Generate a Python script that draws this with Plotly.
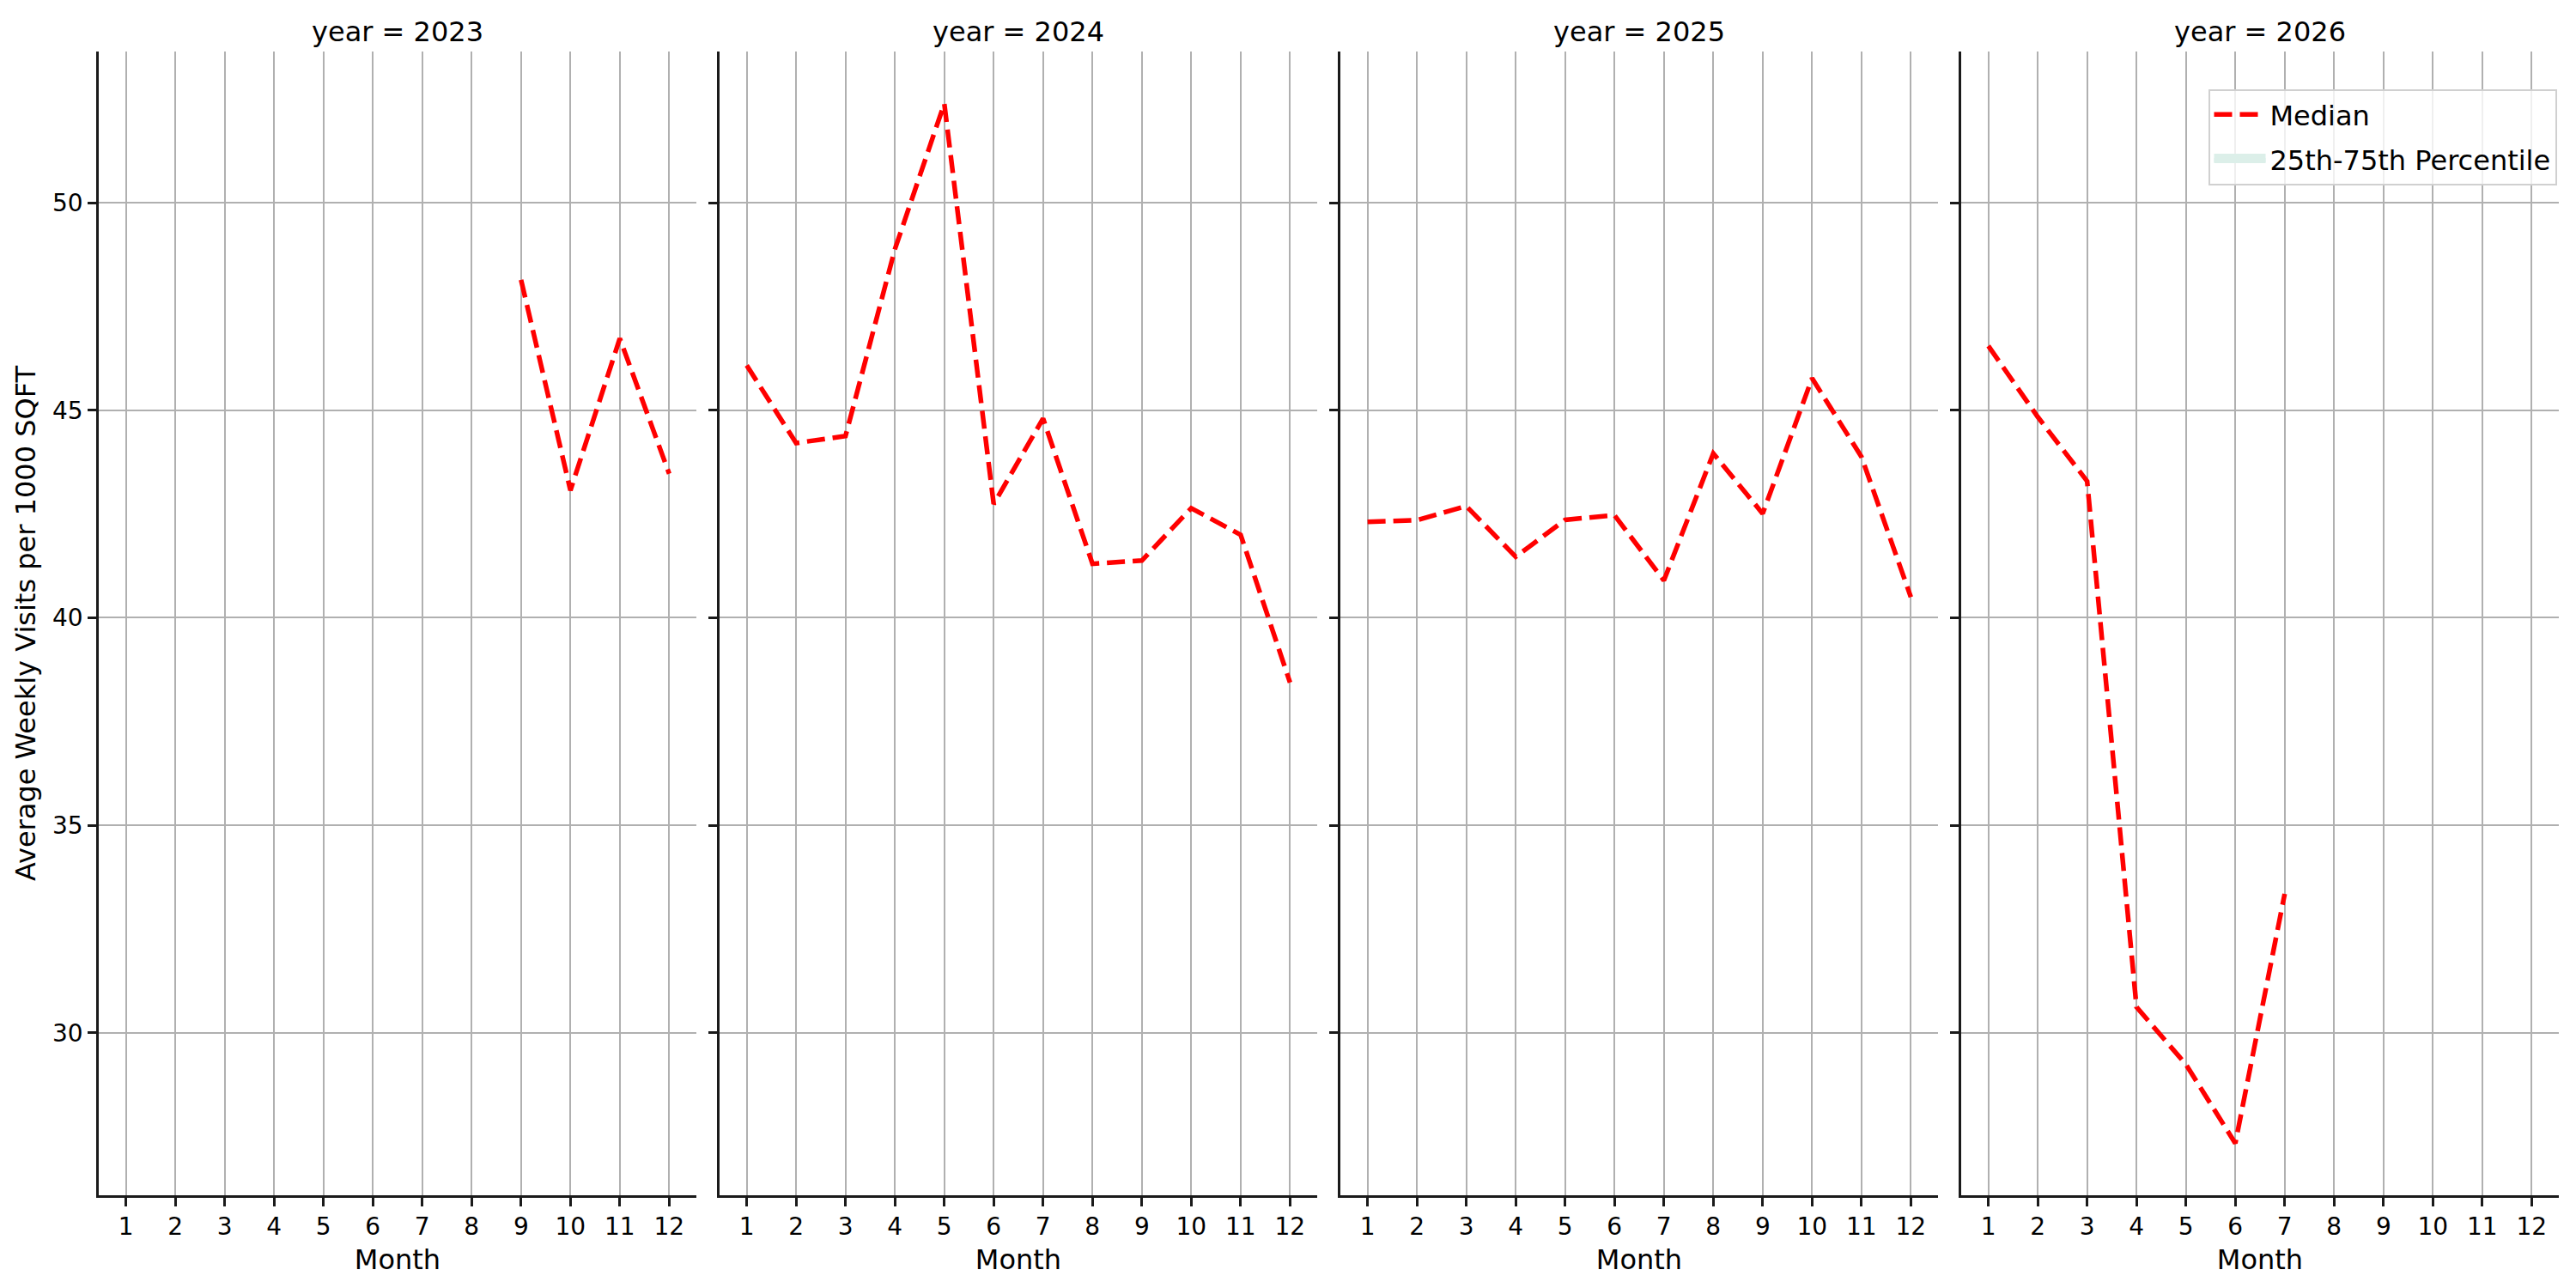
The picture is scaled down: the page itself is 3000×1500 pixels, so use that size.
import plotly.graph_objects as go
from plotly.subplots import make_subplots

# monthly median of average weekly visits per 1000 sqft, one list per year
years = [2023, 2024, 2025, 2026]
months_2023 = [9, 10, 11, 12]
median_2023 = [48.14, 43.07, 46.73, 43.47]
months_2024 = [1, 2, 3, 4, 5, 6, 7, 8, 9, 10, 11, 12]
median_2024 = [46.08, 44.21, 44.38, 48.88, 52.39, 42.74, 44.80, 41.30, 41.38, 42.64, 42.00, 38.44]
months_2025 = [1, 2, 3, 4, 5, 6, 7, 8, 9, 10, 11, 12]
median_2025 = [42.31, 42.35, 42.69, 41.47, 42.36, 42.47, 40.90, 43.96, 42.51, 45.77, 43.88, 40.50]
months_2026 = [1, 2, 3, 4, 5, 6, 7]
median_2026 = [46.55, 44.84, 43.29, 30.62, 29.24, 27.34, 33.35]
# the percentile band has no drawn values in the source chart
p25_2026 = [None, None, None, None, None, None, None]
p75_2026 = [None, None, None, None, None, None, None]
month_ticks = list(range(1, 13))
y_ticks = [30, 35, 40, 45, 50]

series = [
    (months_2023, median_2023),
    (months_2024, median_2024),
    (months_2025, median_2025),
    (months_2026, median_2026),
]

FONT = "DejaVu Sans"
INK = "#1a1a1a"
GRID = "#b0b0b0"
BAND = "#dcefe9"

fig = make_subplots(rows=1, cols=4, shared_yaxes=True)

for i, (mx, my) in enumerate(series):
    fig.add_trace(go.Scatter(
        x=mx, y=my, mode="lines", name="Median",
        line=dict(color="#ff0000", width=5.5, dash="21px,9px"),
        showlegend=(i == 3), legendgroup="median",
    ), row=1, col=i + 1)

# thick line so the legend swatch reads as a patch
fig.add_trace(go.Scatter(
    x=months_2026 + months_2026[::-1], y=p75_2026 + p25_2026[::-1],
    mode="lines", fill="toself", fillcolor=BAND,
    line=dict(color=BAND, width=30),
    name="25th-75th Percentile", legendgroup="band", showlegend=True,
), row=1, col=4)

all_vals = median_2023 + median_2024 + median_2025 + median_2026
lo, hi = min(all_vals), max(all_vals)
pad = 0.05 * (hi - lo)

edges = [(115, 811), (838, 1534), (1561, 2257), (2284, 2980)]
for i, (x0, x1) in enumerate(edges):
    xa = "xaxis" if i == 0 else "xaxis%d" % (i + 1)
    ya = "yaxis" if i == 0 else "yaxis%d" % (i + 1)
    fig.layout[xa].update(
        domain=[x0 / 3000, x1 / 3000], range=[0.45, 12.55],
        tickvals=month_ticks, ticks="outside", ticklen=10, tickwidth=2.5,
        tickcolor=INK, showline=True, linecolor=INK, linewidth=2.5,
        showgrid=True, gridcolor=GRID, gridwidth=2, zeroline=False,
        tickfont=dict(family=FONT, size=28, color="black"),
        title=dict(text="Month", standoff=12,
                   font=dict(family=FONT, size=32, color="black")),
        automargin=False,
    )
    fig.layout[ya].update(
        domain=[0.072, 0.96], range=[lo - pad, hi + pad],
        tickvals=y_ticks, ticks="outside", ticklen=10, tickwidth=2.5,
        tickcolor=INK, showline=True, linecolor=INK, linewidth=2.5,
        showgrid=True, gridcolor=GRID, gridwidth=2, zeroline=False,
        showticklabels=(i == 0),
        tickfont=dict(family=FONT, size=28, color="black"),
        automargin=False,
    )
    fig.add_annotation(
        text="year = %d" % years[i], x=(x0 + x1) / 6000, y=1 - 37 / 1500,
        xref="paper", yref="paper", xanchor="center", yanchor="middle",
        showarrow=False, font=dict(family=FONT, size=32, color="black"),
    )

fig.layout.yaxis.title = dict(
    text="Average Weekly Visits per 1000 SQFT", standoff=10,
    font=dict(family=FONT, size=32, color="black"),
)

fig.update_layout(
    width=3000, height=1500, autosize=False,
    margin=dict(l=0, r=0, t=0, b=0),
    paper_bgcolor="white", plot_bgcolor="white",
    font=dict(family=FONT, size=28, color="black"),
    legend=dict(
        x=0.9925, y=1 - 104 / 1500, xanchor="right", yanchor="top",
        bgcolor="rgba(255,255,255,0.8)", bordercolor="#d0d0d0", borderwidth=2,
        font=dict(family=FONT, size=32, color="black"),
        itemwidth=60, traceorder="grouped", tracegroupgap=8,
    ),
)

fig.write_html("out.html", config={"displayModeBar": False},
               post_script="document.body.style.margin='0';")
